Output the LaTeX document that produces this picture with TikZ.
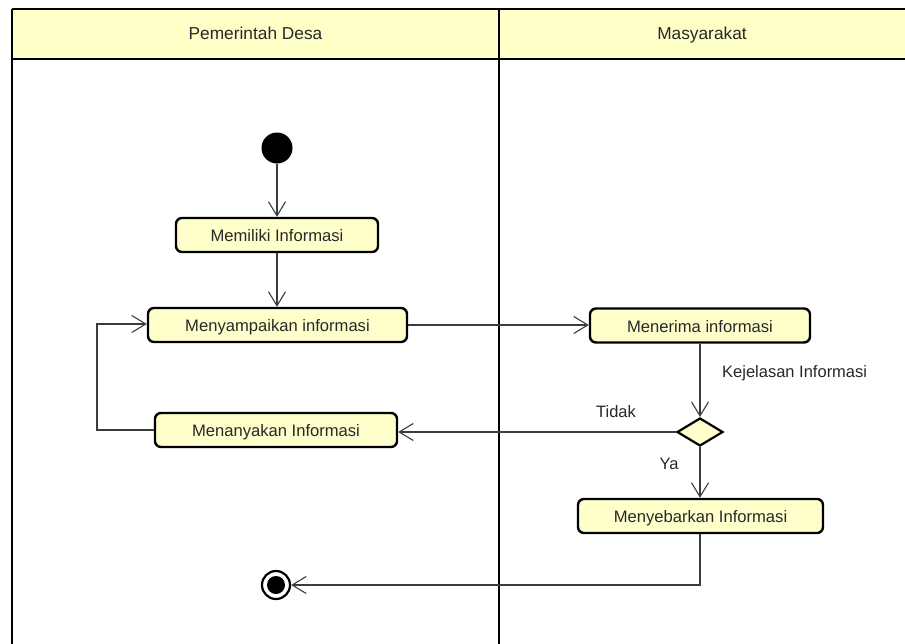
\documentclass[tikz,border=0pt]{standalone}
\usepackage{fontspec}
\setmainfont{Liberation Sans}
\usetikzlibrary{shapes.geometric,arrows.meta,positioning}
\definecolor{actfill}{RGB}{255,255,204}
\definecolor{hdrfill}{RGB}{255,255,200}
\definecolor{conn}{RGB}{60,60,60}
\definecolor{txt}{RGB}{40,40,40}
\tikzset{
  act/.style={draw=black, line width=2.4pt, fill=actfill, rounded corners=6pt,
    minimum height=34pt, inner sep=0pt, text=txt, text height=15.5pt, text depth=2pt,
    font=\fontsize{16.6}{20}\selectfont},
  decis/.style={draw=black, line width=2.2pt, fill=actfill, diamond, aspect=1.65,
    minimum width=46pt, minimum height=28pt, inner sep=0pt},
  startnode/.style={circle, fill=black, minimum size=31pt, inner sep=0pt},
  endnode/.style={circle, draw=black, line width=2.2pt, fill=white, minimum size=28pt, inner sep=0pt},
  flow/.style={draw=conn, line width=1.1pt, -{Straight Barb[length=14pt,width=17pt,line width=1.1pt]}},
  lbl/.style={font=\fontsize{16.5}{20}\selectfont, text=txt, inner sep=0pt,
    text height=12pt, text depth=3.5pt},
  hdr/.style={font=\fontsize{17.3}{20}\selectfont, text=txt, inner sep=0pt,
    text height=12.5pt, text depth=3.5pt},
  frame/.style={draw=black, line width=2.4pt}
}
\begin{document}
\begin{tikzpicture}[x=1pt,y=-1pt]
\useasboundingbox (0,0) rectangle (905,643);
\fill[white] (0,0) rectangle (905,643);
% swimlane header
\fill[hdrfill] (12,9) rectangle (910,59);
\draw[frame] (12,9) -- (910,9);
\draw[frame] (12,59) -- (910,59);
\draw[frame] (12,9) -- (12,650);
\draw[frame] (499,9) -- (499,650);
\node[hdr] (lane1) at (255.5,35) {Pemerintah Desa};
\node[hdr] (lane2) at (702,35) {Masyarakat};
% nodes
\node[startnode] (start) at (277,148) {};
\node[act, minimum width=202pt] (memiliki) at (277,235) {Memiliki Informasi};
\node[act, minimum width=259pt] (sampai) at (277.5,325) {Menyampaikan informasi};
\node[act, minimum width=220pt] (terima) at (700,325.5) {Menerima informasi};
\node[decis] (dec) at (700,432) {};
\node[act, minimum width=242pt] (tanya) at (276,430) {Menanyakan Informasi};
\node[act, minimum width=245pt] (sebar) at (700.5,516) {Menyebarkan Informasi};
\node[endnode] (end) at (276,585) {};
\fill[black] (end.center) circle (9pt);
\coordinate (c1) at (700,585);
\coordinate (loopA) at (97,430);
\coordinate (loopB) at (97,324);
% connectors
\draw[flow] (start) -- (memiliki.north -| start);
\draw[flow] (memiliki.south -| start) -- (sampai.north -| start);
\draw[flow] (sampai.east) -- (terima.west |- sampai.east);
\draw[flow] (terima.south) -- (dec.north);
\draw[flow] (dec.west) -- (tanya.east |- dec.west);
\draw[flow] (dec.south) -- (sebar.north -| dec.south);
\draw[flow] (sebar.south -| c1) -- (c1) -- (end.east);
\draw[flow] (tanya.west) -- (loopA) -- (loopB) -- (sampai.west |- loopB);
% labels
\node[lbl, anchor=west] (kej) at (722,373) {Kejelasan Informasi};
\node[lbl] (tidak) at (616,413) {Tidak};
\node[lbl] (ya) at (669,465) {Ya};
\end{tikzpicture}
\end{document}
